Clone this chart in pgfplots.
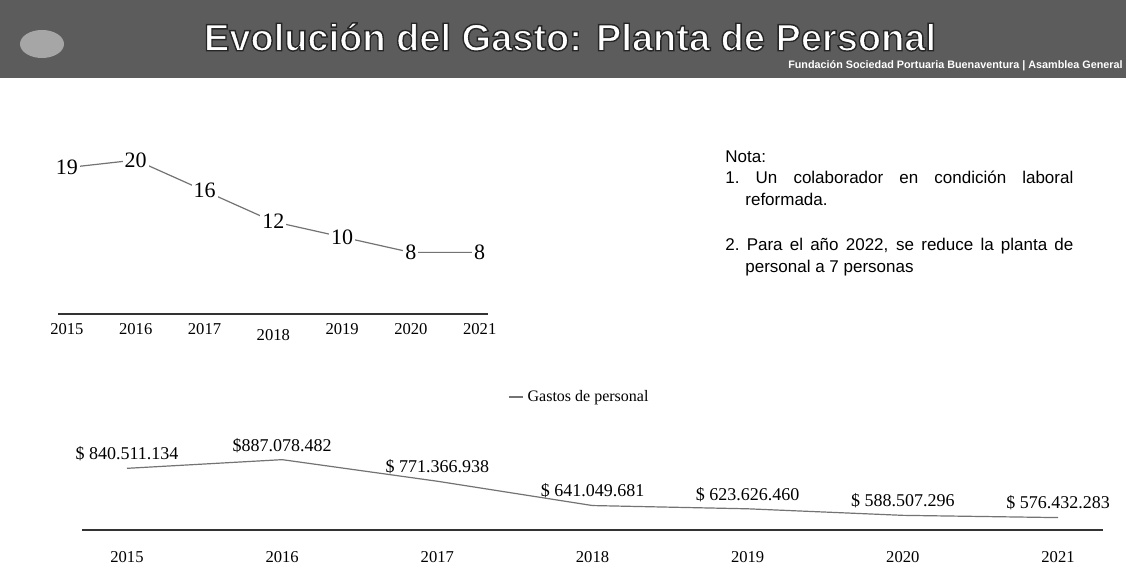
\documentclass[border=0pt]{standalone}
\usepackage{fontspec}
\setmainfont{Liberation Serif}
\newfontfamily\sansf{Liberation Sans}
\usepackage{pgfplots}
\pgfplotsset{compat=1.18}
\definecolor{banner}{gray}{0.36}
\definecolor{linegray}{gray}{0.45}
\begin{document}
\begin{tikzpicture}
\begin{scope}[x=0.5pt,y=-0.5pt]
\useasboundingbox (0,0) rectangle (1126,563);
\fill[white] (0,0) rectangle (1126,563);
\fill[banner] (0,0) rectangle (1126,78);
\fill[gray!70] (42,44) ellipse [x radius=11pt, y radius=7pt];
\node[text=white, font=\sansf\bfseries\fontsize{19}{21}\selectfont, inner sep=1pt] at (570,37) {\special{pdf:code q 2 Tr 0.7 w 0.15 G}Evolución del Gasto: Planta de Personal\special{pdf:code Q}};
\node[anchor=east, text=white, font=\sansf\bfseries\fontsize{5.4}{6}\selectfont, inner sep=1pt] at (1125,66) {Fundación Sociedad Portuaria Buenaventura | Asamblea General};
\node[anchor=north west, inner sep=0pt, text width=174pt, align=justify, font=\sansf\fontsize{8.5}{10.75}\selectfont] at (725,150) {%
\hyphenpenalty=10000\exhyphenpenalty=10000\emergencystretch=20pt
Nota:\par
{\hangindent=10pt\hangafter=1 1.\ Un colaborador en condición laboral reformada.\par}
\vspace{12pt}
{\hangindent=10pt\hangafter=1 2.\ Para el año 2022, se reduce la planta de personal a 7 personas\par}};
\end{scope}

\begin{axis}[
  at={(29pt,-157pt)}, anchor=south west,
  scale only axis, width=215pt, height=84.7pt,
  xmin=-0.13, xmax=6.12, ymin=0, ymax=22,
  axis x line*=bottom, axis y line=none,
  x axis line style={black!80, line width=0.7pt},
  xtick={0,1,2,3,4,5,6},
  xticklabels={2015,2016,2017,\raisebox{-3pt}[\height][\depth]{2018},2019,2020,2021},
  major tick length=0pt,
  xticklabel style={font=\fontsize{8.3}{9}\selectfont, yshift=-1pt},
  clip=false,
  point meta=explicit symbolic,
  nodes near coords,
  every node near coord/.append style={anchor=center, text=black, fill=white, inner sep=1pt, font=\fontsize{11}{12}\selectfont},
]
\addplot[linegray, line width=0.6pt, mark=none] coordinates {
 (0,19) [19] (1,20) [20] (2,16) [16] (3,12) [12] (4,10) [10] (5,8) [8] (6,8) [8]
};
\end{axis}

\begin{axis}[
  at={(41pt,-265pt)}, anchor=south west,
  scale only axis, width=510.5pt, height=50pt,
  xmin=-0.29, xmax=6.29, ymin=510000000, ymax=1046000000,
  axis x line*=bottom, axis y line=none,
  x axis line style={black!80, line width=0.7pt},
  xtick={0,1,2,3,4,5,6},
  xticklabels={2015,2016,2017,2018,2019,2020,2021},
  major tick length=0pt,
  xticklabel style={font=\fontsize{8.3}{9}\selectfont, yshift=-7pt},
  clip=false,
  point meta=explicit symbolic,
  nodes near coords,
  every node near coord/.append style={text=black, font=\fontsize{9}{10}\selectfont},
  legend style={at={(0.488,1.33)}, anchor=center, draw=none, fill=none, font=\fontsize{8}{9}\selectfont},
  legend image code/.code={\draw[#1, line width=0.8pt] (0pt,0pt) -- (7pt,0pt);},
]
\addplot[linegray, line width=0.6pt, mark=none] coordinates {
 (0,840511134) [{\$ 840.511.134}]
 (1,887078482) [{\$887.078.482}]
 (2,771366938) [{\$ 771.366.938}]
 (3,641049681) [{\$ 641.049.681}]
 (4,623626460) [{\$ 623.626.460}]
 (5,588507296) [{\$ 588.507.296}]
 (6,576432283) [{\$ 576.432.283}]
};
\addlegendentry{Gastos de personal}
\end{axis}
\end{tikzpicture}
\end{document}
